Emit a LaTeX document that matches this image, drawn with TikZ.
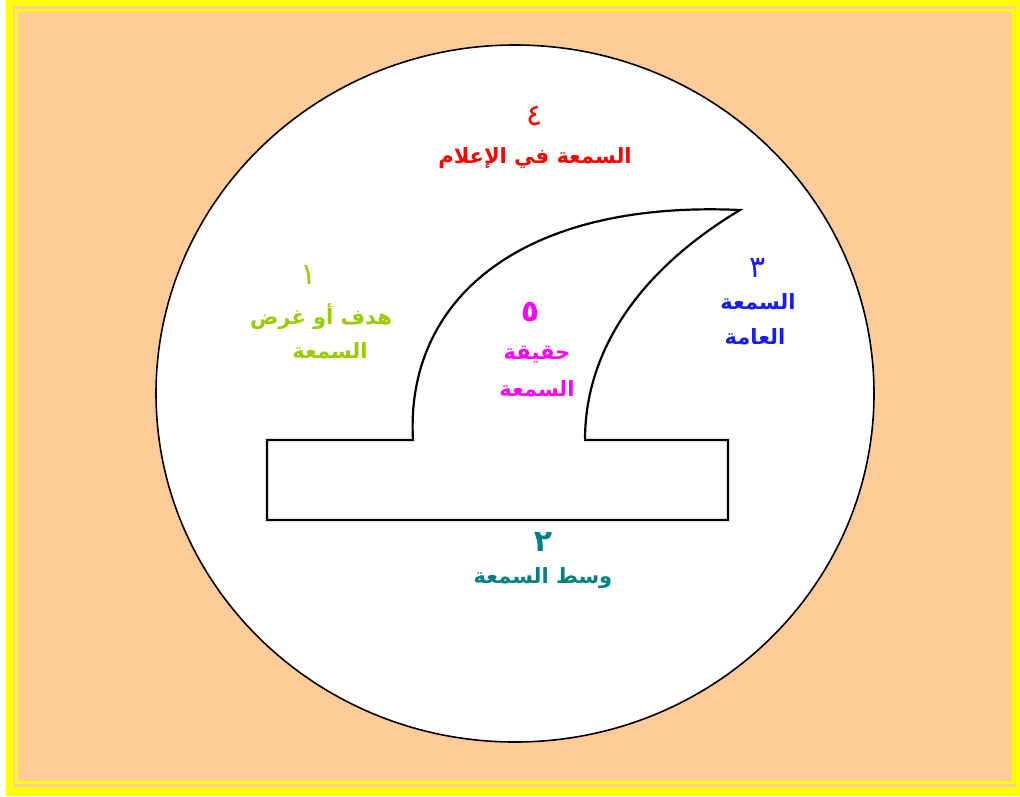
\documentclass[tikz,border=0pt]{standalone}
\usepackage{fontspec}
\newfontfamily\arabicfont[Script=Arabic]{DejaVu Sans}
\TeXXeTstate=1
\definecolor{peach}{HTML}{FFCC99}
\definecolor{yel}{HTML}{FFFF00}
\definecolor{cred}{HTML}{FF0000}
\definecolor{cgreen}{HTML}{99CC00}
\definecolor{cmag}{HTML}{FF00FF}
\definecolor{cblue}{HTML}{1A1AFF}
\definecolor{cteal}{HTML}{008080}
\tikzset{
  lbl/.style={inner sep=0pt, font=\arabicfont\bfseries\fontsize{21}{24}\selectfont, align=center},
  num/.style={inner sep=0pt, font=\arabicfont\fontsize{30}{32}\selectfont},
  bnum/.style={inner sep=0pt, font=\arabicfont\bfseries\fontsize{30}{32}\selectfont},
  outline/.style={draw=black, line width=2.2pt, line join=miter}
}
\begin{document}
\begin{tikzpicture}[x=1pt,y=-1pt]
\useasboundingbox (0,0) rectangle (1020,796);
\fill[white] (0,0) rectangle (1020,796);
\fill[yel] (6,0) rectangle (1020,796);
\fill[peach] (13,6) rectangle (1016,787);
\draw[yel, line width=3pt] (16.5,10.5) rectangle (1013.5,782.5);
% circle
\draw[fill=white, line width=1.6pt] (515,393.5) ellipse [x radius=359, y radius=348.5];
% shape
\draw[outline] (413,440) .. controls (405,300) and (520,200) .. (740,210)
  .. controls (640,270) and (585,350) .. (585,440)
  -- (728,440) -- (728,520) -- (267,520) -- (267,440) -- cycle;
\fill[white] (414.5,437.5) rectangle (583.5,442.5);
% texts
\node[num, text=cred] (n4) at (535,116) {\beginR ٤\endR};
\node[lbl, text=cred] (t4) at (535,158) {\beginR السمعة في الإعلام\endR};
\node[num, text=cgreen] (n1) at (309,275) {\beginR ١\endR};
\node[lbl, text=cgreen] (t1a) at (321,317) {\beginR هدف أو غرض\endR};
\node[lbl, text=cgreen] (t1b) at (330,351) {\beginR السمعة\endR};
\node[bnum, text=cmag] (n5) at (530,312) {\beginR ٥\endR};
\node[lbl, text=cmag] (t5a) at (537,355) {\beginR حقيقة\endR};
\node[lbl, text=cmag] (t5b) at (537,389) {\beginR السمعة\endR};
\node[num, text=cblue] (n3) at (758,268) {\beginR ٣\endR};
\node[lbl, text=cblue] (t3a) at (758,302) {\beginR السمعة\endR};
\node[lbl, text=cblue] (t3b) at (755,337) {\beginR العامة\endR};
\node[bnum, text=cteal] (n2) at (543,542) {\beginR ٢\endR};
\node[lbl, text=cteal] (t2) at (543,578) {\beginR وسط السمعة\endR};
\end{tikzpicture}
\end{document}
